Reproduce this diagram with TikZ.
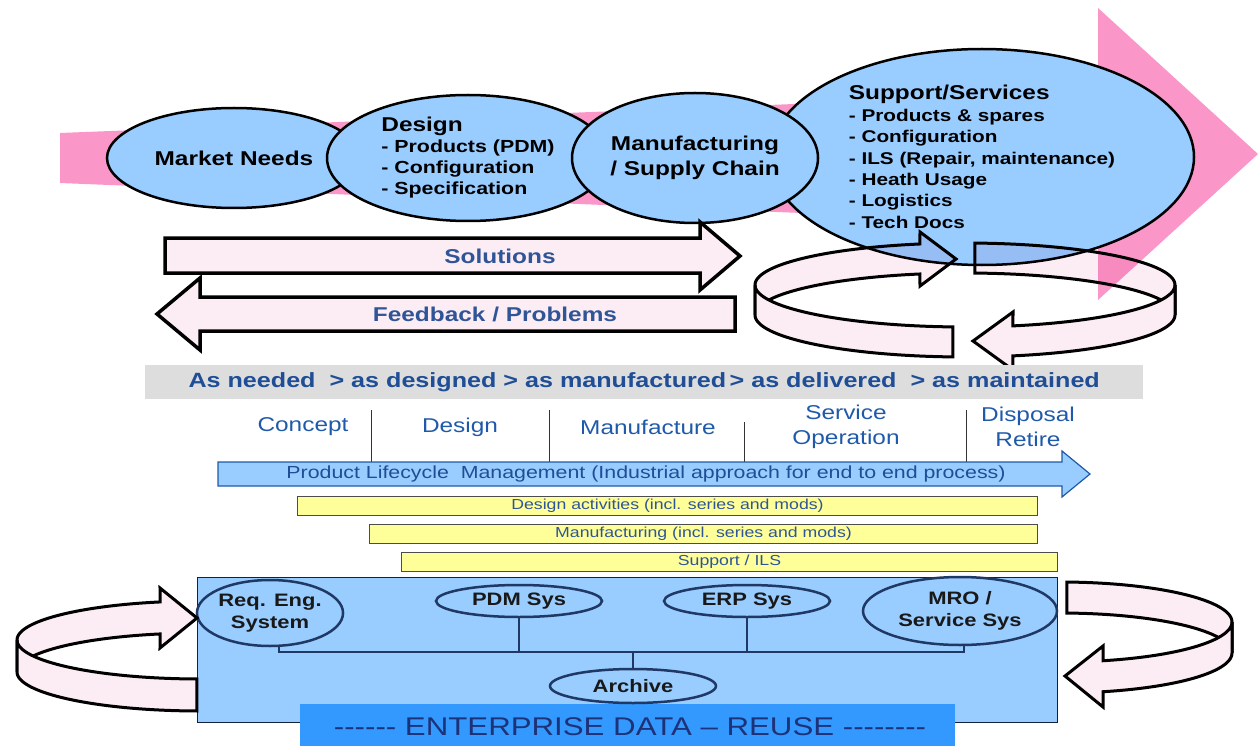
\documentclass[tikz,border=0pt]{standalone}
\usepackage{fontspec}
\setmainfont{Liberation Sans}[FakeStretch=1.22]
\usetikzlibrary{shapes.geometric}

\definecolor{ellblue}{RGB}{153,204,255}
\definecolor{bandpink}{RGB}{250,150,200}
\definecolor{ribbonpink}{RGB}{252,237,245}
\definecolor{txtblue}{RGB}{47,85,151}
\definecolor{hdrblue}{RGB}{31,78,150}
\definecolor{phaseblue}{RGB}{31,90,170}
\definecolor{navy}{RGB}{31,56,100}
\definecolor{baryellow}{RGB}{255,255,153}
\definecolor{entblue}{RGB}{51,153,255}
\definecolor{enttext}{RGB}{30,50,120}
\definecolor{hdrgray}{RGB}{221,221,221}

\newcommand{\dsh}{-\kern0pt}

\tikzset{
  topell/.style={ellipse,draw=black,line width=2.5,fill=ellblue,inner sep=0pt,align=center,
    font=\bfseries\fontsize{20}{25}\selectfont},
  sysell/.style={ellipse,draw=navy,line width=2.5,fill=ellblue,inner sep=0pt,align=center,
    text=black!90,font=\bfseries\fontsize{18}{22}\selectfont},
  bandarrow/.style={draw=black,line width=3.5,fill=ribbonpink},
  bandtext/.style={text=txtblue,font=\bfseries\fontsize{20}{24}\selectfont},
  ribbon/.style={draw=black,line width=3,fill=ribbonpink},
  ribbonback/.style={ribbon,blend mode=multiply},
  phase/.style={text=phaseblue,align=center,font=\fontsize{20}{25}\selectfont},
  phaseline/.style={draw=black!80,line width=1},
  ybar/.style={draw=black!70,line width=1,fill=baryellow,minimum height=19,inner sep=0pt,anchor=west,
    text=txtblue,font=\fontsize{14.5}{15}\selectfont},
  bus/.style={draw=navy,line width=2}
}

\begin{document}
\begin{tikzpicture}[x=1pt,y=-1pt]
\useasboundingbox (0,0) rectangle (1258,746);

\fill[bandpink] (60,133) -- (1098,92) -- (1098,8) -- (1258,154) -- (1098,300) -- (1098,225) -- (60,183) -- cycle;

\node[topell,minimum width=254,minimum height=100] (market) at (234,158) {Market Needs};
\node[topell,minimum width=282,minimum height=126,align=left,font=\bfseries\fontsize{17.5}{21}\selectfont] (design) at (468,158)
  {{\fontsize{20}{21}\selectfont Design}\\- Products (PDM)\\- Configuration\\- Specification};
\node[topell,minimum width=424,minimum height=216,align=left,font=\bfseries\fontsize{17}{21.4}\selectfont] (support) at (982,157)
  {{\fontsize{20}{21.4}\selectfont Support/Services}\\- Products \& spares\\- Configuration\\- ILS (Repair, maintenance)\\- Heath Usage\\- Logistics\\- Tech Docs};
\node[topell,minimum width=246,minimum height=130] (manuf) at (695,158) {Manufacturing\\/ Supply Chain};

\draw[bandarrow] (165,238) -- (700,238) -- (700,222) -- (740,256) -- (700,290) -- (700,273) -- (165,273) -- cycle;
\node[bandtext] (solutions) at (500,256) {Solutions};
\draw[bandarrow] (735,297) -- (200,297) -- (200,278) -- (157,314) -- (200,350) -- (200,331) -- (735,331) -- cycle;
\node[bandtext] (feedback) at (495,314) {Feedback / Problems};

\draw[ribbonback] plot[domain=180:257.6,samples=40] ({965+210*cos(\x)},{285+42*sin(\x)}) -- (920,232) -- (956,259) -- (920,286)
  -- plot[domain=257.6:180,samples=40] ({965+210*cos(\x)},{315+42*sin(\x)}) -- cycle;
\draw[ribbonback] plot[domain=272.7:360,samples=40] ({965+210*cos(\x)},{285+42*sin(\x)})
  -- plot[domain=360:272.7,samples=40] ({965+210*cos(\x)},{315+42*sin(\x)}) -- cycle;
\draw[ribbon] plot[domain=93.3:180,samples=40] ({965+210*cos(\x)},{285+42*sin(\x)})
  -- plot[domain=180:93.3,samples=40] ({965+210*cos(\x)},{315+42*sin(\x)}) -- cycle;
\draw[ribbon] plot[domain=0:76.8,samples=40] ({965+210*cos(\x)},{285+42*sin(\x)}) -- (1013,312) -- (973,341) -- (1013,370)
  -- plot[domain=76.8:0,samples=40] ({965+210*cos(\x)},{315+42*sin(\x)}) -- cycle;

\node[fill=hdrgray,minimum width=998,minimum height=34,inner sep=0pt,anchor=north west,
  text=hdrblue,font=\bfseries\fontsize{20.6}{24}\selectfont] (states) at (145,365)
  {As needed\ \ > as designed > as manufactured\,> as delivered\ \ > as maintained};

\node[phase] (concept) at (303,427) {Concept};
\node[phase] (designph) at (460,427) {Design};
\node[phase] (manufph) at (648,427) {Manufacture};
\node[phase] (service) at (846,427) {Service\\Operation};
\node[phase] (disposal) at (1028,427) {Disposal\\Retire};
\draw[phaseline] (371,410) -- (371,462);
\draw[phaseline] (549,410) -- (549,462);
\draw[phaseline] (744,422) -- (744,462);
\draw[phaseline] (966,410) -- (966,462);

\draw[draw=phaseblue,line width=1.2,fill=ellblue] (218,462) -- (1062,462) -- (1062,451) -- (1090,474) -- (1062,497) -- (1062,486) -- (218,486) -- cycle;
\node[text=hdrblue,font=\fontsize{17.5}{19}\selectfont] (plm) at (646,474) {Product Lifecycle\ \ Management (Industrial approach for end to end process)};

\node[ybar,minimum width=740] (dact) at (297,506) {Design activities (incl. series and mods)};
\node[ybar,minimum width=668] (mact) at (369,534) {Manufacturing (incl. series and mods)};
\node[ybar,minimum width=656] (sact) at (401,562) {Support / ILS};

\node[draw=navy!60!black,line width=1,fill=ellblue,minimum width=860,minimum height=145,inner sep=0pt,anchor=north west] (repo) at (197,577) {};
\node[fill=entblue,minimum width=655,minimum height=50,inner sep=0pt,anchor=north west] (entbox) at (300,704) {};
\node[text=enttext,font=\fontsize{25.6}{30}\selectfont] (entdata) at (630,727)
  {\dsh\dsh\dsh\dsh\dsh\dsh\ ENTERPRISE DATA – REUSE \dsh\dsh\dsh\dsh\dsh\dsh\dsh\dsh};

\node[sysell,minimum width=146,minimum height=66] (req) at (270,613) {Req. Eng.\\System};
\node[sysell,minimum width=166,minimum height=32] (pdm) at (519,601) {PDM Sys};
\node[sysell,minimum width=166,minimum height=32] (erp) at (747,601) {ERP Sys};
\node[sysell,minimum width=194,minimum height=68] (mro) at (960,611) {MRO /\\Service Sys};
\node[sysell,minimum width=166,minimum height=34] (archive) at (633,686) {Archive};

\coordinate (busL) at (279,652);
\coordinate (busR) at (964,652);
\draw[bus] (req.south -| busL) -- (busL) -- (busR) -- (mro.south -| busR);
\draw[bus] (pdm.south) -- (pdm.south |- busL);
\draw[bus] (erp.south) -- (erp.south |- busL);
\draw[bus] (archive.north) -- (archive.north |- busL);

\draw[ribbon] plot[domain=180:257.4,samples=40] ({200+183*cos(\x)},{640+39*sin(\x)}) -- (160,588) -- (197,618) -- (160,648)
  -- plot[domain=257.4:180,samples=40] ({200+183*cos(\x)},{672+39*sin(\x)}) -- cycle;
\draw[ribbon] plot[domain=91:180,samples=40] ({200+183*cos(\x)},{640+39*sin(\x)})
  -- plot[domain=180:91,samples=40] ({200+183*cos(\x)},{672+39*sin(\x)}) -- cycle;

\draw[ribbon] plot[domain=272.3:360,samples=40] ({1060+172*cos(\x)},{622+40*sin(\x)})
  -- plot[domain=360:272.3,samples=40] ({1060+172*cos(\x)},{653+40*sin(\x)}) -- cycle;
\draw[ribbon] plot[domain=0:75.5,samples=40] ({1060+172*cos(\x)},{622+40*sin(\x)}) -- (1103,646) -- (1065,676) -- (1103,707)
  -- plot[domain=75.5:0,samples=40] ({1060+172*cos(\x)},{653+40*sin(\x)}) -- cycle;
\end{tikzpicture}
\end{document}
